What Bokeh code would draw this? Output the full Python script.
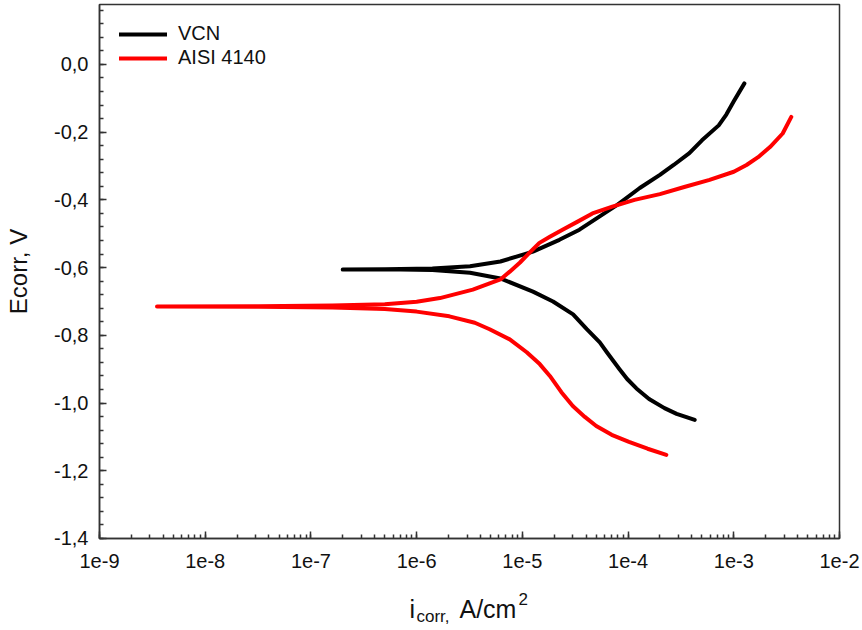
from bokeh.plotting import figure
from bokeh.layouts import column
from bokeh.models import (Range1d, LogAxis, LinearAxis, SingleIntervalTicker, LogTicker,
                          CustomJSTickFormatter, Legend, LegendItem, LogScale)
from bokeh.core.properties import value
from bokeh.embed import file_html
from bokeh.resources import INLINE

# ---- data ----
vcn_i = [4.27e-4, 2.88e-4, 2.21e-4, 1.58e-4, 1.2e-4, 9.8e-5, 8.3e-5, 6.3e-5, 5.4e-5,
         4.07e-5, 3.02e-5, 1.95e-5, 1.26e-5, 6.2e-6, 3.2e-6, 1.41e-6, 5.0e-7, 2.0e-7,
         5.0e-7, 1.41e-6, 3.2e-6, 6.2e-6, 1.26e-5, 2.24e-5, 3.47e-5, 7.9e-5, 1.29e-4,
         2.0e-4, 2.7e-4, 3.8e-4, 5.0e-4, 7.2e-4, 8.5e-4, 1.0e-3, 1.26e-3]
vcn_e = [-1.050, -1.032, -1.015, -0.988, -0.957, -0.929, -0.900, -0.850, -0.821,
         -0.782, -0.738, -0.700, -0.671, -0.632, -0.615, -0.607, -0.605, -0.606,
         -0.605, -0.603, -0.596, -0.582, -0.553, -0.518, -0.488, -0.415, -0.365,
         -0.326, -0.297, -0.262, -0.224, -0.180, -0.148, -0.109, -0.056]

aisi_i = [2.3e-4, 1.53e-4, 1.02e-4, 7.0e-5, 5.0e-5, 3.9e-5, 3.0e-5, 2.34e-5, 1.82e-5,
          1.46e-5, 1.1e-5, 7.6e-6, 4.9e-6, 3.55e-6, 2.04e-6, 1.0e-6, 5.0e-7, 1.6e-7,
          3.2e-8, 3.5e-9,
          3.2e-8, 1.6e-7, 5.0e-7, 1.0e-6, 1.66e-6, 3.4e-6, 6.2e-6, 7.6e-6, 9.5e-6,
          1.17e-5, 1.45e-5, 1.82e-5, 2.4e-5, 3.3e-5, 4.6e-5, 7.1e-5, 1.15e-4, 2.0e-4,
          3.4e-4, 5.9e-4, 1.0e-3, 1.32e-3, 1.7e-3, 2.2e-3, 2.9e-3, 3.5e-3]
aisi_e = [-1.153, -1.135, -1.115, -1.094, -1.068, -1.041, -1.009, -0.968, -0.920,
          -0.885, -0.850, -0.812, -0.782, -0.763, -0.744, -0.730, -0.722, -0.718,
          -0.716, -0.715,
          -0.714, -0.712, -0.708, -0.701, -0.690, -0.665, -0.635, -0.612, -0.585,
          -0.556, -0.527, -0.509, -0.488, -0.465, -0.440, -0.420, -0.400, -0.383,
          -0.362, -0.341, -0.317, -0.297, -0.274, -0.244, -0.204, -0.155]

series_names = ["VCN", "AISI 4140"]
series_colors = ["#000000", "#ff0000"]

x_min, x_max = 1e-9, 1e-2
y_min, y_max = -1.4001, 0.177

# x-axis title pieces: i_corr, A/cm^2
xlabel_text = ["i", "corr,", "A/cm", "2"]
xlabel_size = ["25px", "17px", "25px", "17px"]

FONT = "Liberation Sans"
AX = "#333333"
LEFT, RIGHT = 99, 21

p = figure(width=860, height=578, x_axis_type=None, y_axis_type=None,
           x_range=Range1d(x_min, x_max), y_range=Range1d(y_min, y_max),
           output_backend="svg", toolbar_location=None,
           min_border_left=LEFT, min_border_right=RIGHT, min_border_top=4, min_border_bottom=40)
p.x_scale = LogScale()
p.background_fill_color = "white"
p.border_fill_color = "white"
p.outline_line_color = AX
p.outline_line_width = 1.5
p.grid.visible = False

xaxis = LogAxis(ticker=LogTicker(num_minor_ticks=10))
xaxis.formatter = CustomJSTickFormatter(code="return '1e' + Math.round(Math.log10(tick));")
yaxis = LinearAxis(ticker=SingleIntervalTicker(interval=0.2, num_minor_ticks=5))
yaxis.formatter = CustomJSTickFormatter(code="""
    if (Math.abs(tick) < 1e-9) { return '0,0'; }
    return tick.toFixed(1).replace('.', ',');
""")
for ax in (xaxis, yaxis):
    ax.axis_line_color = AX
    ax.axis_line_width = 1.5
    ax.major_tick_in = 7
    ax.major_tick_out = 0
    ax.minor_tick_in = 4
    ax.minor_tick_out = 0
    ax.major_tick_line_color = AX
    ax.minor_tick_line_color = AX
    ax.major_tick_line_width = 1.5
    ax.minor_tick_line_width = 1.5
    ax.major_label_text_font = FONT
    ax.major_label_text_font_size = "20px"
    ax.major_label_text_color = "#111111"
    ax.axis_label_text_font = FONT
    ax.axis_label_text_font_style = "normal"
    ax.axis_label_text_font_size = "24px"
    ax.axis_label_text_color = "#111111"

xaxis.major_label_standoff = 15
yaxis.major_label_standoff = 11
yaxis.axis_label = "Ecorr, V"
yaxis.axis_label_standoff = 19

p.add_layout(xaxis, "below")
p.add_layout(yaxis, "left")

r1 = p.line(vcn_i, vcn_e, line_color=series_colors[0], line_width=4,
            line_cap="round", line_join="round")
r2 = p.line(aisi_i, aisi_e, line_color=series_colors[1], line_width=4,
            line_cap="round", line_join="round")

legend = Legend(items=[LegendItem(label=series_names[0], renderers=[r1]),
                       LegendItem(label=series_names[1], renderers=[r2])],
                location=(20, 469), orientation="vertical",
                border_line_color=None, background_fill_alpha=0,
                padding=0, margin=0, spacing=1,
                glyph_width=48, glyph_height=20, label_standoff=11,
                label_text_font=FONT, label_text_font_size="20px",
                label_text_color="#111111", label_height=20)
p.add_layout(legend)

# strip below the plot carrying the x-axis title (with sub/superscript);
# its frame has the same left/right borders as the plot, so x = page pixel
q = figure(width=860, height=52, x_range=Range1d(LEFT, 860 - RIGHT), y_range=Range1d(0, 52),
           output_backend="svg", toolbar_location=None,
           min_border_left=LEFT, min_border_right=RIGHT, min_border_top=0, min_border_bottom=0,
           x_axis_type=None, y_axis_type=None)
q.outline_line_color = None
q.grid.visible = False
q.background_fill_color = "white"
q.border_fill_color = "white"

title_x = [409, 416, 459, 518]
title_y = [22, 14, 22, 32]
for txt, fs, tx, ty in zip(xlabel_text, xlabel_size, title_x, title_y):
    q.text(x=[tx], y=[ty], text=[txt], text_font=value(FONT), text_font_size=fs,
           text_color="#111111", text_baseline="alphabetic", text_align="left")

layout = column(p, q, spacing=0)
open("out.html", "w").write(file_html(layout, INLINE))
